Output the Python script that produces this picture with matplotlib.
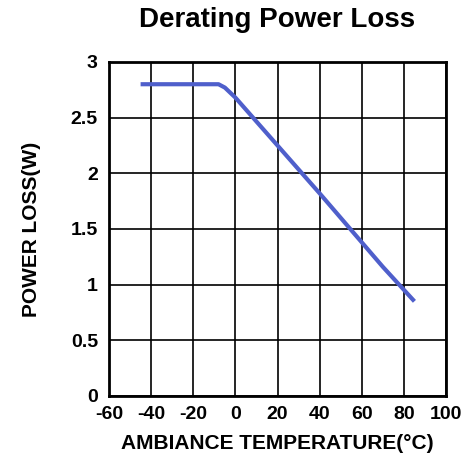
import matplotlib.pyplot as plt

# derating curve: ambient temperature (°C) vs allowed power loss (W)
temp = [-45, -8, -5, 0, 20, 40, 60, 70, 85]
power = [2.8, 2.8, 2.77, 2.68, 2.25, 1.82, 1.38, 1.16, 0.85]

xticks = [-60, -40, -20, 0, 20, 40, 60, 80, 100]
yticks = [0, 0.5, 1, 1.5, 2, 2.5, 3]
ytick_labels = ["0", "0.5", "1", "1.5", "2", "2.5", "3"]

plt.rcParams['font.family'] = ['Liberation Sans', 'DejaVu Sans']
plt.rcParams['axes.unicode_minus'] = False

fig = plt.figure(figsize=(4.69, 4.59), dpi=100)
ax = fig.add_axes([0.2324, 0.1373, 0.7186, 0.7277])

ax.plot(temp, power, color="#4f5fcb", linewidth=3, solid_capstyle="butt")

ax.set_xlim(-60, 100)
ax.set_ylim(0, 3)
ax.set_xticks(xticks)
ax.set_yticks(yticks)
ax.set_yticklabels(ytick_labels)
ax.grid(True, color="black", linewidth=1.2)
ax.set_axisbelow(True)
ax.tick_params(length=0, labelsize=14)
ax.tick_params(axis="x", pad=7)
ax.tick_params(axis="y", pad=8)
for lbl in ax.get_xticklabels() + ax.get_yticklabels():
    lbl.set_fontweight("bold")
for s in ax.spines.values():
    s.set_linewidth(2)

ax.set_xlabel("AMBIANCE TEMPERATURE(°C)", fontsize=15, fontweight="bold", labelpad=8)
ax.set_ylabel("POWER LOSS(W)", fontsize=15, fontweight="bold", labelpad=21)
ax.set_title("Derating Power Loss", fontsize=20, fontweight="bold", pad=25)

fig.savefig("out.png", dpi=100)
